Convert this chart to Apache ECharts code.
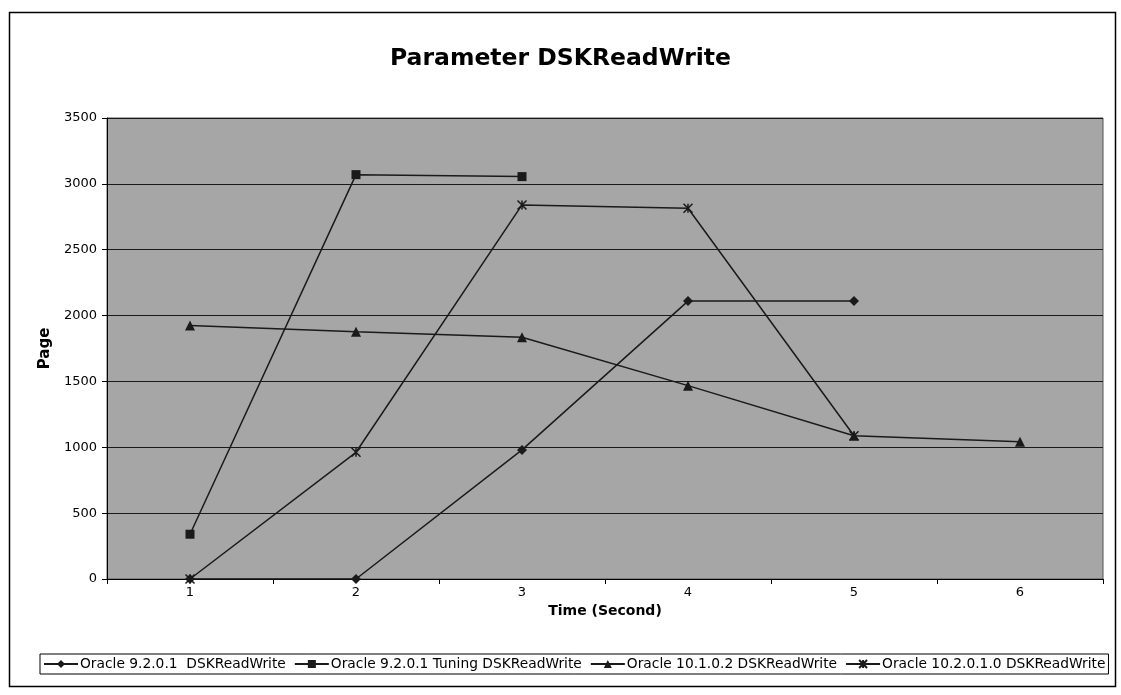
<!DOCTYPE html>
<html><head><meta charset="utf-8">
<script src="https://cdn.jsdelivr.net/npm/echarts@6/dist/echarts.min.js"></script>
<style>html,body{margin:0;padding:0;background:#fff}#c{width:1121px;height:695px}</style>
</head><body><div id="c"></div>
<script>
const categories = ['1','2','3','4','5','6'];
const s9201 = [0, 0, 980, 2110, 2110, null];
const s9201Tuning = [340, 3070, 3055, null, null, null];
const s10102 = [1925, 1878, 1835, 1468, 1088, 1042];
const s102010 = [0, 962, 2840, 2815, 1088, null];
const seriesNames = ['Oracle 9.2.0.1  DSKReadWrite','Oracle 9.2.0.1 Tuning DSKReadWrite','Oracle 10.1.0.2 DSKReadWrite','Oracle 10.2.0.1.0 DSKReadWrite'];
const yTicks = {min:0, max:3500, interval:500};

const starPath = 'path://M0,0L10,10M10,0L0,10M5,0L5,10';
const font = 'DejaVu Sans, Liberation Sans, Arial, sans-serif';
const chart = echarts.init(document.getElementById('c'));
function mk(name, data, symbol, size){
  return {name, type:'line', data, symbol, symbolSize:size, showAllSymbol:true,
    connectNulls:false, animation:false,
    lineStyle:{color:'#1a1a1a', width:1.5},
    itemStyle:{color:'#1a1a1a', borderColor:'#1a1a1a', borderWidth: symbol===starPath?1.5:0}};
}
chart.setOption({
  backgroundColor:'#fff',
  textStyle:{fontFamily:font},
  title:{text:'Parameter DSKReadWrite', left:'center', top:42,
    textStyle:{fontFamily:font, fontSize:23.5, fontWeight:'bold', color:'#000'}},
  grid:{left:107, right:18, top:118, bottom:116, show:true, backgroundColor:'#a6a6a6', borderColor:'#555', borderWidth:1},
  legend:{bottom:21, left:40, itemGap:8, itemWidth:34, itemHeight:10,
    borderColor:'#000', borderWidth:1, padding:[3,3,3,3],
    textStyle:{fontFamily:font, fontSize:13.8, color:'#000', padding:[0,0,0,-3]},
    data:seriesNames},
  xAxis:{type:'category', data:categories, boundaryGap:true,
    name:'Time (Second)', nameLocation:'middle', nameGap:17,
    nameTextStyle:{fontFamily:font, fontSize:14, fontWeight:'bold', color:'#000'},
    axisLine:{lineStyle:{color:'#000', width:1}},
    axisTick:{show:true, alignWithLabel:false, length:5, lineStyle:{color:'#000'}},
    axisLabel:{fontFamily:font, fontSize:13, color:'#000', margin:7},
    splitLine:{show:false}},
  yAxis:{type:'value', min:yTicks.min, max:yTicks.max, interval:yTicks.interval,
    name:'Page', nameLocation:'middle', nameGap:53, nameRotate:90,
    nameTextStyle:{fontFamily:font, fontSize:15, fontWeight:'bold', color:'#000'},
    axisLine:{show:true, lineStyle:{color:'#000', width:1}},
    axisTick:{show:true, length:5, lineStyle:{color:'#000'}},
    axisLabel:{fontFamily:font, fontSize:13, color:'#000', margin:10, formatter:v=>String(v)},
    splitLine:{show:true, lineStyle:{color:'#1a1a1a', width:1.2}}},
  graphic:[{type:'rect', left:7, top:10, shape:{width:1106, height:674},
    style:{fill:null, stroke:'#000', lineWidth:1.5}, silent:true}],
  series:[
    mk(seriesNames[0], s9201, 'diamond', 10),
    mk(seriesNames[1], s9201Tuning, 'rect', 9),
    mk(seriesNames[2], s10102, 'triangle', 10),
    mk(seriesNames[3], s102010, starPath, 9)
  ]
});
</script></body></html>
